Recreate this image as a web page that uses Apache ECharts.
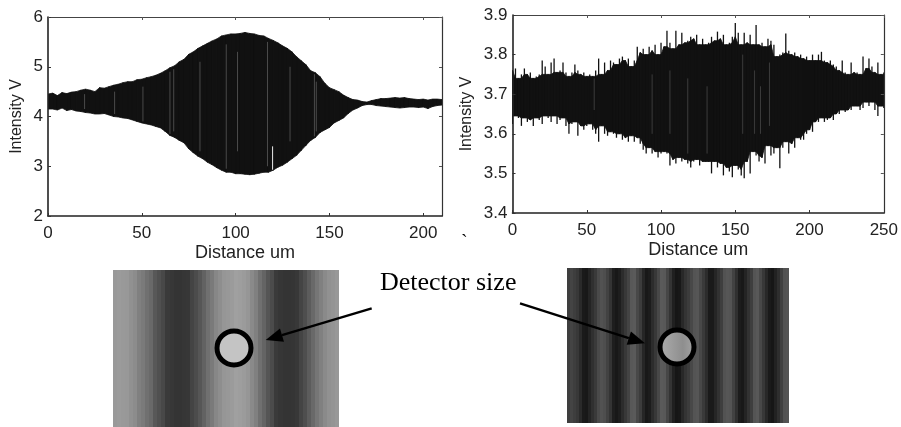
<!DOCTYPE html>
<html>
<head>
<meta charset="utf-8">
<style>html,body{margin:0;padding:0;background:#fff}#c{width:901px;height:427px}</style>
<script src="https://cdn.jsdelivr.net/npm/echarts@6/dist/echarts.min.js"></script>
</head>
<body>
<div id="c"></div>
<script>
// Left chart: envelope of the signal, sampled every 2.5 um
const leftStep = 2.5;
const leftUpper = [4.45,4.47,4.42,4.48,4.46,4.49,4.5,4.53,4.55,4.53,4.5,4.58,4.57,4.6,4.63,4.65,4.68,4.7,4.7,4.74,4.75,4.78,4.8,4.83,4.87,4.92,4.98,5.02,5.1,5.15,5.25,5.3,5.37,5.42,5.47,5.52,5.56,5.62,5.64,5.66,5.66,5.67,5.69,5.67,5.66,5.63,5.62,5.57,5.53,5.48,5.42,5.37,5.3,5.2,5.12,5.04,4.92,4.88,4.8,4.67,4.58,4.54,4.5,4.43,4.38,4.34,4.33,4.3,4.29,4.32,4.34,4.36,4.36,4.37,4.38,4.37,4.38,4.36,4.35,4.34,4.35,4.33,4.35,4.35,4.34];
const leftLower = [4.15,4.15,4.13,4.17,4.12,4.14,4.11,4.1,4.08,4.07,4.05,4.05,4.06,4.03,4.0,3.99,3.97,3.96,3.93,3.9,3.87,3.85,3.83,3.8,3.77,3.7,3.62,3.58,3.52,3.47,3.35,3.27,3.2,3.15,3.08,3.03,2.97,2.92,2.88,2.88,2.85,2.85,2.84,2.83,2.84,2.86,2.88,2.88,2.92,2.98,3.02,3.08,3.15,3.22,3.32,3.42,3.52,3.58,3.68,3.73,3.78,3.87,3.92,3.97,4.06,4.13,4.17,4.22,4.24,4.24,4.22,4.21,4.2,4.19,4.18,4.17,4.18,4.19,4.19,4.18,4.19,4.16,4.2,4.22,4.23];
// Left chart: pale vertical streaks
const leftStreakX = [19.5,35.5,50.6,65,67,81,95,101,117,129,142,143];
const leftStreakLo = [4.15,4.05,3.9,3.65,3.7,3.3,2.95,3.3,3.0,3.5,3.6,3.7];
const leftStreakHi = [4.45,4.5,4.6,4.9,4.95,5.1,5.45,5.3,5.5,5.0,4.85,4.7];
const leftWhiteX = [119.7];
const leftWhiteLo = [2.93];
const leftWhiteHi = [3.4];

// Right chart: envelope of the signal, sampled every 2 um
const rightStep = 2;
const rightUpper = [3.76,3.765,3.74,3.75,3.765,3.75,3.755,3.74,3.745,3.75,3.785,3.77,3.75,3.78,3.79,3.755,3.76,3.78,3.755,3.745,3.755,3.775,3.76,3.75,3.755,3.745,3.75,3.745,3.76,3.79,3.75,3.78,3.76,3.785,3.78,3.775,3.79,3.795,3.785,3.79,3.77,3.785,3.82,3.805,3.815,3.80,3.82,3.81,3.825,3.80,3.83,3.82,3.86,3.83,3.815,3.86,3.825,3.855,3.83,3.835,3.845,3.84,3.85,3.825,3.84,3.825,3.83,3.845,3.835,3.858,3.84,3.85,3.825,3.83,3.845,3.88,3.855,3.825,3.855,3.83,3.85,3.825,3.875,3.825,3.83,3.82,3.84,3.835,3.825,3.795,3.80,3.805,3.853,3.81,3.80,3.805,3.795,3.80,3.79,3.795,3.785,3.80,3.785,3.80,3.807,3.785,3.78,3.785,3.775,3.77,3.76,3.785,3.755,3.75,3.78,3.755,3.755,3.75,3.795,3.765,3.79,3.77,3.755,3.78,3.75,3.755];
const rightLower = [3.625,3.645,3.64,3.62,3.64,3.63,3.635,3.62,3.64,3.635,3.625,3.645,3.64,3.63,3.645,3.625,3.635,3.64,3.62,3.60,3.625,3.63,3.595,3.62,3.61,3.62,3.625,3.61,3.60,3.58,3.62,3.60,3.595,3.605,3.60,3.59,3.60,3.585,3.59,3.58,3.595,3.58,3.59,3.575,3.56,3.55,3.565,3.55,3.555,3.54,3.55,3.555,3.55,3.52,3.535,3.525,3.54,3.53,3.535,3.525,3.515,3.53,3.535,3.52,3.53,3.53,3.53,3.50,3.53,3.515,3.525,3.495,3.515,3.505,3.49,3.52,3.51,3.495,3.488,3.53,3.50,3.555,3.545,3.53,3.54,3.525,3.57,3.545,3.55,3.565,3.513,3.565,3.58,3.55,3.575,3.565,3.59,3.585,3.585,3.60,3.61,3.605,3.63,3.63,3.64,3.63,3.635,3.64,3.635,3.65,3.65,3.66,3.655,3.66,3.66,3.67,3.67,3.66,3.665,3.68,3.67,3.68,3.66,3.645,3.67,3.665];
const rightStreakX = [55,94,106,118,131,155,163,167,173];
const rightStreakLo = [3.66,3.6,3.6,3.55,3.55,3.6,3.6,3.6,3.62];
const rightStreakHi = [3.74,3.75,3.76,3.74,3.72,3.8,3.76,3.72,3.78];

// Axis scales and names
const leftXTicks = {min:0,max:210,interval:50};
const leftYTicks = {min:2,max:6,interval:1};
const rightXTicks = {min:0,max:250,interval:50};
const rightYTicks = {min:3.4,max:3.9,interval:0.1};
const xName = 'Distance um';
const yName = 'Intensity V';
const annotation = 'Detector size';

// Fringe pictures: grey level of each column
const leftFringes = [153,155,153,152,145,140,128,122,112,105,88,80,72,58,55,52,52,54,55,68,76,86,98,112,122,135,142,150,152,155,160,158,155,150,138,128,112,100,85,75,58,54,52,52,53,56,68,78,92,105,118,128,138,145,148,152];
const rightFringes = [62,68,62,56,42,26,24,36,48,58,74,82,78,66,52,30,24,30,44,56,68,88,90,72,60,38,24,28,44,56,72,90,88,70,52,32,22,24,40,52,60,72,84,86,72,58,44,26,26,38,50,62,82,86,84,66,48,28,24,36,50,62,84,88,72,56,40,26,22,34,46,64,82,84];

const ink = '#111';
const sans = '"Liberation Sans",Arial,sans-serif';
const serif = '"Liberation Serif","Times New Roman",serif';

// Envelope: a solid core between neighbouring samples. With reach 0 the core follows
// the samples; with reach 1 it follows the inner neighbour and each sample stands
// proud of it as a thin vertical stroke.
const band = (step,up,lo,xi,yi,reach,strokeW) => {
  const coreUp=i=>{let v=up[i];for(let k=-reach;k<=reach;k++){if(up[i+k]!==undefined)v=Math.min(v,up[i+k]);}return v;};
  const coreLo=i=>{let v=lo[i];for(let k=-reach;k<=reach;k++){if(lo[i+k]!==undefined)v=Math.max(v,lo[i+k]);}return v;};
  return {
    type:'custom',xAxisIndex:xi,yAxisIndex:yi,z:3,clip:true,
    data:up.map((v,i)=>[i*step,lo[i],v]),
    encode:{x:0,y:[1,2]},
    renderItem:(params,api)=>{
      const i=params.dataIndex;
      const a=api.coord([i*step,up[i]]),b=api.coord([i*step,lo[i]]);
      const children=[{type:'line',shape:{x1:a[0],y1:a[1],x2:b[0],y2:b[1]},style:{stroke:ink,lineWidth:strokeW}}];
      if(i<up.length-1){
        children.push({type:'polygon',shape:{points:[
          api.coord([i*step,coreUp(i)]),api.coord([(i+1)*step,coreUp(i+1)]),
          api.coord([(i+1)*step,coreLo(i+1)]),api.coord([i*step,coreLo(i)])]},
          style:{fill:ink,stroke:ink,lineWidth:0.8}});
      }
      return {type:'group',children};
    }
  };
};
const streak = (xs,lo,hi,xi,yi,color) => ({
  type:'custom',xAxisIndex:xi,yAxisIndex:yi,z:4,
  data:xs.map((x,i)=>[x,lo[i],hi[i]]),
  encode:{x:0,y:[1,2]},
  renderItem:(params,api)=>{
    const a=api.coord([api.value(0),api.value(1)]),b=api.coord([api.value(0),api.value(2)]);
    return {type:'line',shape:{x1:a[0],y1:a[1],x2:b[0],y2:b[1]},style:{stroke:color,lineWidth:1}};
  }
});
const fringe = (arr,xi,yi) => ({
  type:'custom',xAxisIndex:xi,yAxisIndex:yi,z:1,
  data:arr.map((v,i)=>[i,v]),
  encode:{x:0},
  renderItem:(params,api)=>{
    const i=api.value(0),g=api.value(1);
    const a=api.coord([i,0]),b=api.coord([i+1,1]);
    const x1=Math.round(a[0]),x2=Math.round(b[0]);
    return {type:'rect',shape:{x:x1,y:b[1],width:x2-x1,height:a[1]-b[1]},style:{fill:'rgb('+g+','+g+','+g+')'}};
  }
});

function xAxes(t,grid){ return [
  {type:'value',gridIndex:grid,position:'bottom',...t,name:xName,nameLocation:'middle',nameGap:28,z:10,
   nameTextStyle:{fontFamily:sans,fontSize:18,color:'#222'},
   axisLine:{onZero:false,lineStyle:{color:'#222',width:1.6}},axisTick:{inside:true,length:3,lineStyle:{color:'#333',width:1}},
   axisLabel:{fontFamily:sans,fontSize:17,color:'#222',margin:9,showMaxLabel:t.max===250,showMinLabel:true},splitLine:{show:false}},
  {type:'value',gridIndex:grid,position:'top',...t,z:10,
   axisLine:{onZero:false,lineStyle:{color:'#444',width:1}},axisTick:{inside:true,length:3,lineStyle:{color:'#555',width:1}},
   axisLabel:{show:false},splitLine:{show:false}}
];}
function yAxes(t,grid,gap,fmt){ return [
  {type:'value',gridIndex:grid,position:'left',...t,name:yName,nameLocation:'middle',nameGap:gap,z:10,
   nameTextStyle:{fontFamily:sans,fontSize:16,color:'#222'},
   axisLine:{onZero:false,lineStyle:{color:'#222',width:1.6}},axisTick:{inside:true,length:3,lineStyle:{color:'#333',width:1}},
   axisLabel:{fontFamily:sans,fontSize:17,color:'#222',margin:5,formatter:fmt,showMinLabel:true,showMaxLabel:true},splitLine:{show:false}},
  {type:'value',gridIndex:grid,position:'right',...t,z:10,
   axisLine:{onZero:false,lineStyle:{color:'#333',width:1.2}},axisTick:{inside:true,length:3,lineStyle:{color:'#555',width:1}},
   axisLabel:{show:false},splitLine:{show:false}}
];}
const hiddenX = (grid,n) => ({type:'value',gridIndex:grid,min:0,max:n,show:false});
const hiddenY = (grid) => ({type:'value',gridIndex:grid,min:0,max:1,show:false});

function arrow(x1,y1,x2,y2){
  const dx=x2-x1,dy=y2-y1,l=Math.hypot(dx,dy),ux=dx/l,uy=dy/l,hl=17,hw=7;
  const bx=x2-ux*hl,by=y2-uy*hl;
  return [
    {type:'line',shape:{x1,y1,x2:bx,y2:by},style:{stroke:'#000',lineWidth:2.4},z:20},
    {type:'polygon',shape:{points:[[x2,y2],[bx-uy*hw,by+ux*hw],[bx+uy*hw,by-ux*hw]]},style:{fill:'#000'},z:20}
  ];
}

const chart = echarts.init(document.getElementById('c'),null,{renderer:'canvas'});
chart.setOption({
  animation:false,
  backgroundColor:'#fff',
  tooltip:{show:false},
  legend:{show:false},
  grid:[
    {left:48,top:17,width:394,height:199},
    {left:512.5,top:15,width:374.5,height:198},
    {left:113,top:270,width:226,height:157},
    {left:567,top:268,width:222,height:155}
  ],
  xAxis:[...xAxes(leftXTicks,0),...xAxes(rightXTicks,1),hiddenX(2,leftFringes.length),hiddenX(3,rightFringes.length)],
  yAxis:[...yAxes(leftYTicks,0,23,v=>String(v)),...yAxes(rightYTicks,1,38,v=>v.toFixed(1)),hiddenY(2),hiddenY(3)],
  series:[
    band(leftStep,leftUpper,leftLower,0,0,0,1.2),
    streak(leftStreakX,leftStreakLo,leftStreakHi,0,0,'#4a4a4a'),
    streak(leftWhiteX,leftWhiteLo,leftWhiteHi,0,0,'#e8e8e8'),
    band(rightStep,rightUpper,rightLower,2,2,1,1.3),
    streak(rightStreakX,rightStreakLo,rightStreakHi,2,2,'#3c3c3c'),
    {type:'line',xAxisIndex:1,yAxisIndex:1,data:[]},
    {type:'line',xAxisIndex:3,yAxisIndex:3,data:[]},
    fringe(leftFringes,4,4),
    fringe(rightFringes,5,5)
  ],
  graphic:{elements:[
    {type:'text',left:380,top:270,z:20,style:{text:annotation,font:'26px '+serif,fill:'#000'}},
    {type:'text',left:461,top:234,z:20,style:{text:'`',font:'20px '+serif,fill:'#000'}},
    ...arrow(371.7,308.3,265.7,340),
    ...arrow(520,303.3,645,343.3),
    {type:'circle',shape:{cx:234,cy:348,r:17},z:19,style:{fill:'#c4c4c4',stroke:'#000',lineWidth:5}},
    {type:'circle',shape:{cx:677,cy:347,r:17},z:19,style:{stroke:'#000',lineWidth:5,
      fill:{type:'linear',x:0,y:0,x2:1,y2:0,colorStops:[{offset:0,color:'#b0b0b0'},{offset:0.65,color:'#8e8e8e'},{offset:1,color:'#a8a8a8'}]}}}
  ]}
});
</script>
</body>
</html>
